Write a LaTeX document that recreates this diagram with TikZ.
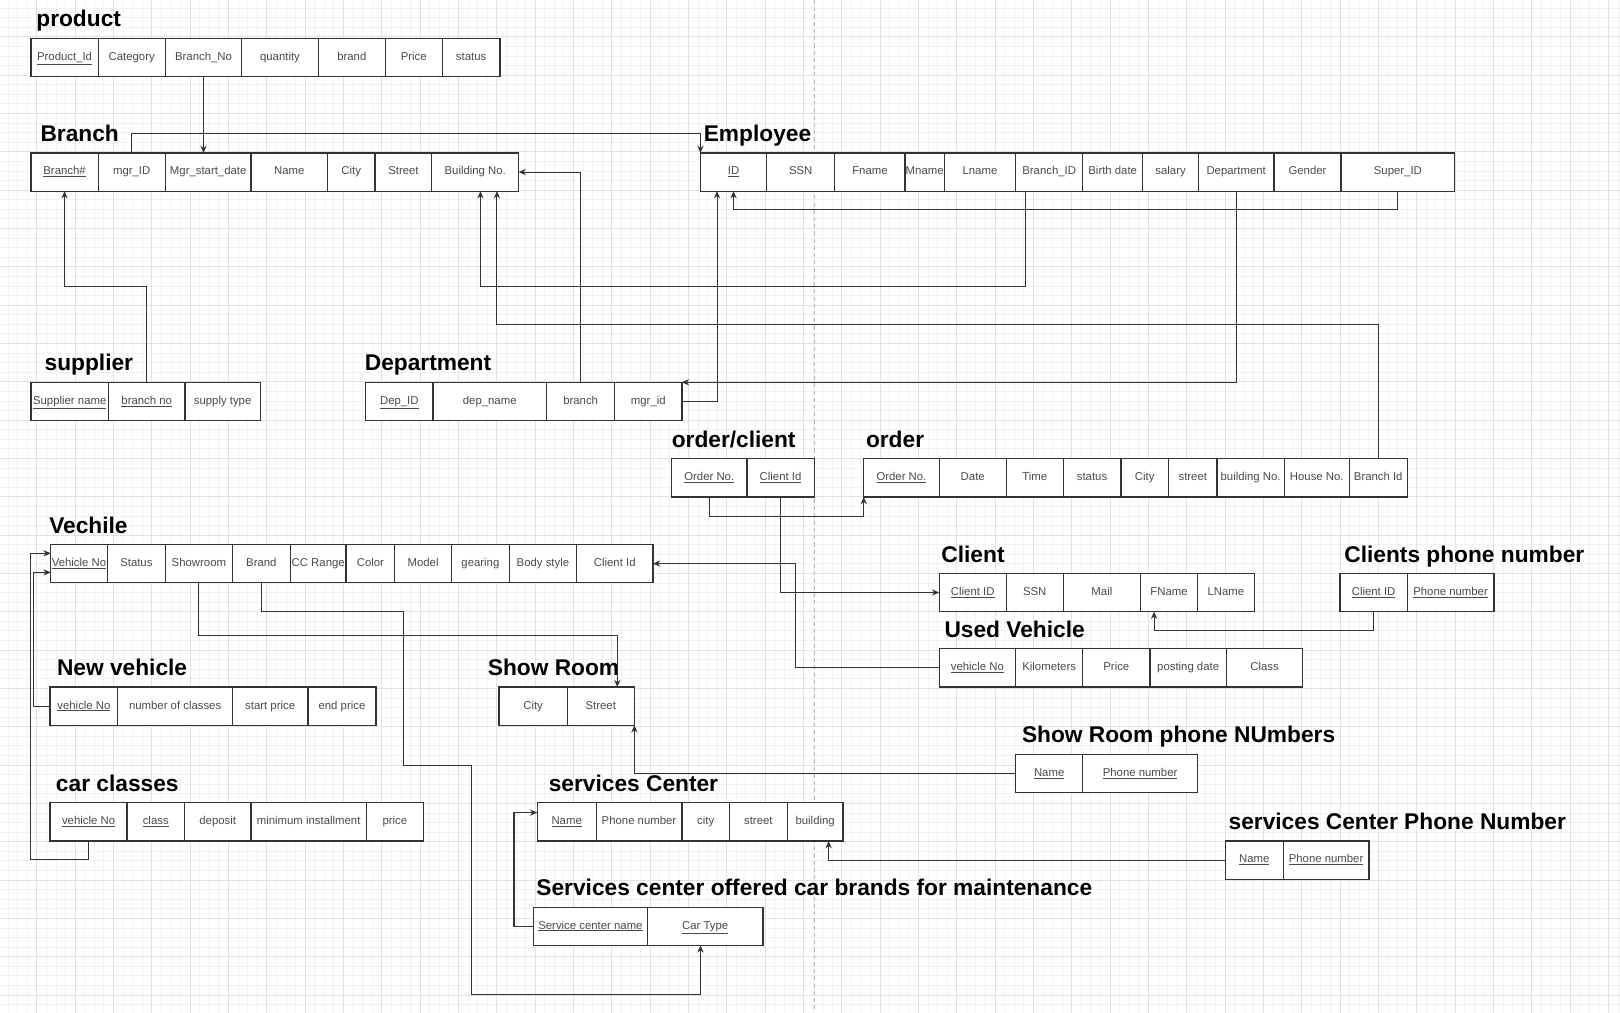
\documentclass[tikz,border=0pt]{standalone}
\usepackage{fontspec}
\setmainfont{Liberation Sans}
\usepackage{xcolor}
\usepackage{tikz}
\usetikzlibrary{arrows.meta}

\definecolor{edgegray}{HTML}{333333}
\definecolor{txtgray}{HTML}{4A4A4A}
\definecolor{gridminor}{HTML}{F2F2F2}
\definecolor{gridmajor}{HTML}{E2E2E2}

\begin{document}
\begin{tikzpicture}[x=1pt,y=-1pt,
    cell/.style={draw=edgegray,fill=white,line width=1.2pt,minimum height=37pt,inner sep=0pt,outer sep=0pt,
      text height=8pt,text depth=2.5pt,anchor=north west,text=txtgray,font=\fontsize{11}{13}\selectfont},
    tbl/.style={anchor=base west,inner sep=0pt,font=\fontsize{22}{26}\selectfont\bfseries},
    fk/.style={draw=edgegray,line width=1pt,-{Stealth[length=7pt,width=6pt]}}]
    \useasboundingbox (0,0) rectangle (1568,980);
    \fill[white] (0,0) rectangle (1568,980);
    % background grid
    \foreach \i in {0,...,169}
        \draw[gridminor,line width=0.6pt] ({-1.6+9.275*\i},0) -- ({-1.6+9.275*\i},980);
    \foreach \i in {0,...,106}
        \draw[gridminor,line width=0.6pt] (0,{-1.6+9.275*\i}) -- (1568,{-1.6+9.275*\i});
    \foreach \i in {0,...,42}
        \draw[gridmajor,line width=0.8pt] ({-1.6+37.1*\i},0) -- ({-1.6+37.1*\i},980);
    \foreach \i in {0,...,26}
        \draw[gridmajor,line width=0.8pt] (0,{-1.6+37.1*\i}) -- (1568,{-1.6+37.1*\i});
    \draw[gray!55,line width=0.8pt,dash pattern=on 4pt off 3pt] (788,0) -- (788,980);

    % product
    \node[tbl] (tProduct) at (35,26) {product};
    \node[cell,minimum width=65pt] (pId) at (30,37) {\underline{Product\_Id}};
    \node[cell,minimum width=65pt] (pCat) at (95,37) {Category};
    \node[cell,minimum width=74pt] (pBranchNo) at (160,37) {Branch\_No};
    \node[cell,minimum width=74pt] (pQty) at (234,37) {quantity};
    \node[cell,minimum width=65pt] (pBrand) at (308,37) {brand};
    \node[cell,minimum width=55pt] (pPrice) at (373,37) {Price};
    \node[cell,minimum width=56pt] (pStatus) at (428,37) {status};

    % Branch
    \node[tbl] (tBranch) at (39,137) {Branch};
    \node[cell,minimum width=65pt] (bNo) at (30,148) {\underline{Branch\#}};
    \node[cell,minimum width=65pt] (bMgr) at (95,148) {mgr\_ID};
    \node[cell,minimum width=83pt] (bMgrDate) at (160,148) {Mgr\_start\_date};
    \node[cell,minimum width=74pt] (bName) at (243,148) {Name};
    \node[cell,minimum width=46pt] (bCity) at (317,148) {City};
    \node[cell,minimum width=55pt] (bStreet) at (363,148) {Street};
    \node[cell,minimum width=84pt] (bBuilding) at (418,148) {Building No.};

    % Employee
    \node[tbl] (tEmployee) at (681,137) {Employee};
    \node[cell,minimum width=64pt] (eId) at (678,148) {\underline{ID}};
    \node[cell,minimum width=66pt] (eSsn) at (742,148) {SSN};
    \node[cell,minimum width=68pt] (eFname) at (808,148) {Fname};
    \node[cell,minimum width=38pt] (eMname) at (876,148) {Mname};
    \node[cell,minimum width=69pt] (eLname) at (914,148) {Lname};
    \node[cell,minimum width=65pt] (eBranch) at (983,148) {Branch\_ID};
    \node[cell,minimum width=58pt] (eBirth) at (1048,148) {Birth date};
    \node[cell,minimum width=54pt] (eSalary) at (1106,148) {salary};
    \node[cell,minimum width=73pt] (eDept) at (1160,148) {Department};
    \node[cell,minimum width=65pt] (eGender) at (1233,148) {Gender};
    \node[cell,minimum width=110pt] (eSuper) at (1298,148) {Super\_ID};

    % supplier
    \node[tbl] (tSupplier) at (43,359) {supplier};
    \node[cell,minimum width=75pt] (sName) at (30,370) {\underline{Supplier name}};
    \node[cell,minimum width=74pt] (sBranch) at (105,370) {\underline{branch no}};
    \node[cell,minimum width=73pt] (sType) at (179,370) {supply type};

    % Department
    \node[tbl] (tDepartment) at (353,359) {Department};
    \node[cell,minimum width=65pt] (dId) at (354,370) {\underline{Dep\_ID}};
    \node[cell,minimum width=110pt] (dName) at (419,370) {dep\_name};
    \node[cell,minimum width=66pt] (dBranch) at (529,370) {branch};
    \node[cell,minimum width=65pt] (dMgr) at (595,370) {mgr\_id};

    % order/client
    \node[tbl] (tOrderClient) at (650,433) {order/client};
    \node[cell,minimum width=73pt] (ocOrder) at (650,444) {\underline{Order No.}};
    \node[cell,minimum width=65pt] (ocClient) at (723,444) {\underline{Client Id}};

    % order
    \node[tbl] (tOrder) at (838,433) {order};
    \node[cell,minimum width=73pt] (oNo) at (836,444) {\underline{Order No.}};
    \node[cell,minimum width=65pt] (oDate) at (909,444) {Date};
    \node[cell,minimum width=55pt] (oTime) at (974,444) {Time};
    \node[cell,minimum width=56pt] (oStatus) at (1029,444) {status};
    \node[cell,minimum width=46pt] (oCity) at (1085,444) {City};
    \node[cell,minimum width=47pt] (oStreet) at (1131,444) {street};
    \node[cell,minimum width=65pt] (oBuilding) at (1178,444) {building No.};
    \node[cell,minimum width=63pt] (oHouse) at (1243,444) {House No.};
    \node[cell,minimum width=56pt] (oBranch) at (1306,444) {Branch Id};

    % Vechile
    \node[tbl] (tVechile) at (47.5,516) {Vechile};
    \node[cell,minimum width=55pt] (vNo) at (49,527) {\underline{Vehicle No}};
    \node[cell,minimum width=56pt] (vStatus) at (104,527) {Status};
    \node[cell,minimum width=65pt] (vShowroom) at (160,527) {Showroom};
    \node[cell,minimum width=56pt] (vBrand) at (225,527) {Brand};
    \node[cell,minimum width=54pt] (vCc) at (281,527) {CC Range};
    \node[cell,minimum width=47pt] (vColor) at (335,527) {Color};
    \node[cell,minimum width=55pt] (vModel) at (382,527) {Model};
    \node[cell,minimum width=56pt] (vGearing) at (437,527) {gearing};
    \node[cell,minimum width=65pt] (vBody) at (493,527) {Body style};
    \node[cell,minimum width=74pt] (vClient) at (558,527) {Client Id};

    % Client
    \node[tbl] (tClient) at (911,544) {Client};
    \node[cell,minimum width=65pt] (cId) at (909,555) {\underline{Client ID}};
    \node[cell,minimum width=55pt] (cSsn) at (974,555) {SSN};
    \node[cell,minimum width=75pt] (cMail) at (1029,555) {Mail};
    \node[cell,minimum width=55pt] (cFname) at (1104,555) {FName};
    \node[cell,minimum width=55pt] (cLname) at (1159,555) {LName};

    % Clients phone number
    \node[tbl] (tClientPhone) at (1301,544) {Clients phone number};
    \node[cell,minimum width=65pt] (cpId) at (1297,555) {\underline{Client ID}};
    \node[cell,minimum width=84pt] (cpPhone) at (1362,555) {\underline{Phone number}};

    % Used Vehicle
    \node[tbl] (tUsed) at (914,617) {Used Vehicle};
    \node[cell,minimum width=74pt] (uNo) at (909,628) {\underline{vehicle No}};
    \node[cell,minimum width=65pt] (uKm) at (983,628) {Kilometers};
    \node[cell,minimum width=65pt] (uPrice) at (1048,628) {Price};
    \node[cell,minimum width=74pt] (uDate) at (1113,628) {posting date};
    \node[cell,minimum width=74pt] (uClass) at (1187,628) {Class};

    % New vehicle
    \node[tbl] (tNew) at (55,654) {New vehicle};
    \node[cell,minimum width=65.5pt] (nNo) at (48.5,665) {\underline{vehicle No}};
    \node[cell,minimum width=111pt] (nClasses) at (114,665) {number of classes};
    \node[cell,minimum width=73pt] (nStart) at (225,665) {start price};
    \node[cell,minimum width=66pt] (nEnd) at (298,665) {end price};

    % Show Room
    \node[tbl] (tShowRoom) at (472,654) {Show Room};
    \node[cell,minimum width=66pt] (srCity) at (483,665) {City};
    \node[cell,minimum width=65pt] (srStreet) at (549,665) {Street};

    % Show Room phone NUmbers
    \node[tbl] (tShowRoomPhone) at (989,719) {Show Room phone NUmbers};
    \node[cell,minimum width=65pt] (srpName) at (983,730) {\underline{Name}};
    \node[cell,minimum width=111pt] (srpPhone) at (1048,730) {\underline{Phone number}};

    % car classes
    \node[tbl] (tCarClasses) at (54,766) {car classes};
    \node[cell,minimum width=74.5pt] (ccNo) at (48.5,777) {\underline{vehicle No}};
    \node[cell,minimum width=55.5pt] (ccClass) at (123,777) {\underline{class}};
    \node[cell,minimum width=64.5pt] (ccDeposit) at (178.5,777) {deposit};
    \node[cell,minimum width=111.5pt] (ccMin) at (243,777) {minimum installment};
    \node[cell,minimum width=55.5pt] (ccPrice) at (354.5,777) {price};

    % services Center
    \node[tbl] (tService) at (531,766) {services Center};
    \node[cell,minimum width=57pt] (scName) at (520,777) {\underline{Name}};
    \node[cell,minimum width=83pt] (scPhone) at (577,777) {Phone number};
    \node[cell,minimum width=46pt] (scCity) at (660,777) {city};
    \node[cell,minimum width=56pt] (scStreet) at (706,777) {street};
    \node[cell,minimum width=54pt] (scBuilding) at (762,777) {building};

    % services Center Phone Number
    \node[tbl] (tServicePhone) at (1189,803) {services Center Phone Number};
    \node[cell,minimum width=56pt] (scpName) at (1186,814) {\underline{Name}};
    \node[cell,minimum width=83pt] (scpPhone) at (1242,814) {\underline{Phone number}};

    % Services center offered car brands for maintenance
    \node[tbl] (tServiceBrands) at (519,867) {Services center offered car brands for maintenance};
    \node[cell,minimum width=110pt] (scbName) at (516.5,878) {\underline{Service center name}};
    \node[cell,minimum width=112pt] (scbType) at (626.5,878) {\underline{Car Type}};

    % foreign keys
    \draw[fk] (pBranchNo.south) -- (pBranchNo.south |- bMgrDate.north);
    \draw[fk] (bMgr.north) -- ++(0,-19) -| (eId.north west);
    \draw[fk] (sBranch.north) -- ++(0,-93) -| (bNo.south);
    \draw[fk] (dBranch.north) |- (bBuilding.east);
    \draw[fk] (eDept.south) |- (dMgr.north east);
    \draw[fk] (dMgr.east) -| ([xshift=-16pt]eId.south);
    \draw[fk] (eSuper.south) -- ++(0,18) -| (eId.south);
    \draw[fk] ([xshift=-23pt]eBranch.south) -- ++(0,92) -| ([xshift=5pt]bBuilding.south);
    \draw[fk] (oBranch.north) -- ++(0,-130) -| ([xshift=21pt]bBuilding.south);
    \draw[fk] (ocOrder.south) -- ++(0,19) -| (oNo.south west);
    \draw[fk] (ocClient.south) |- (cId.west);
    \draw[fk] (uNo.west) -- ++(-139,0) |- (vClient.east);
    \draw[fk] (cpId.south) -- ++(0,18) -| ([xshift=-14.5pt]cFname.south);
    \draw[fk] (nNo.west) -- ++(-16.5,0) |- ([yshift=-8.5pt]vNo.west);
    \draw[fk] (ccNo.south) -- ++(0,18) -- ++(-56,0) |- ([yshift=10pt]vNo.west);
    \draw[fk] (vShowroom.south) -- ++(0,51) -| ([xshift=16pt]srStreet.north);
    \draw[fk] (vBrand.south) -- ++(0,28) -- ++(138,0) -- ++(0,149) -- ++(65,0) -- ++(0,222) -| ([xshift=-4.5pt]scbType.south);
    \draw[fk] (srpName.west) -| (srStreet.south east);
    \draw[fk] (scpName.west) -| ([xshift=13pt]scBuilding.south);
    \draw[fk] (scbName.west) -- ++(-19,0) |- ([yshift=9pt]scName.west);
\end{tikzpicture}
\end{document}
